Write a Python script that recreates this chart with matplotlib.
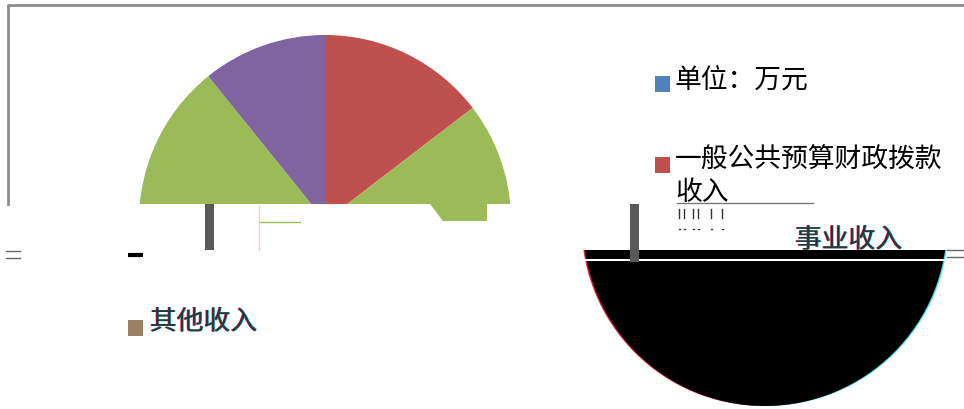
import matplotlib
matplotlib.use('Agg')
import matplotlib.pyplot as plt
import matplotlib.patheffects as pe
from matplotlib.patches import Polygon, Rectangle

plt.rcParams['font.family'] = ['Noto Sans CJK SC', 'DejaVu Sans']

# income shares (the lower part is hidden in the picture)
shares = [14.6, 26.4, 33.0, 15.2, 10.8]
share_colors = ['#C0504D', '#9BBB59', '#595959', '#9BBB59', '#8064A2']

legend_labels = ['单位：万元', '一般公共预算财政拨款', '收入', '事业收入', '其他收入']

W, H = 964, 409


def py(y):
    # pixel row from the top -> axes y
    return H - y


fig = plt.figure(figsize=(W / 100, H / 100), dpi=100)
ax = fig.add_axes([0, 0, 1, 1])

# main pie
ax.pie(shares, colors=share_colors, startangle=90, counterclock=False,
       center=(325, py(221)), radius=186, frame=False)

# white block that cuts the pie, with the notch where the green still shows
mask = [(0, 204), (430, 204), (443, 221), (487, 221), (487, 204), (582, 204),
        (582, 409), (0, 409)]
ax.add_patch(Polygon([(x, py(y)) for x, y in mask], color='white', lw=0, zorder=3))

# black half disc with its colour fringes
for dx, c, z in [(-1.5, '#E02040', 1), (1.5, '#40E0E0', 1), (0, 'black', 2)]:
    wedges, _ = ax.pie([1], colors=[c], center=(765 + dx, py(224)), radius=182, frame=False)
    wedges[0].set_zorder(z)
ax.set_xlim(0, W)
ax.set_ylim(0, H)
ax.set_aspect('auto')
ax.axis('off')
ax.add_patch(Rectangle((575, py(250)), W - 575, 250, color='white', lw=0, zorder=3))
ax.add_patch(Rectangle((582, py(261)), 366, 2, color='white', lw=0, zorder=3))

# frame
ax.plot([8, 8, W], [py(204), py(5), py(5)], color='#8C8C8C', lw=2, zorder=4)

# leftovers of the broken image
ax.add_patch(Rectangle((205, py(250)), 9, 46, color='#595959', lw=0, zorder=4))
ax.add_patch(Rectangle((630, py(262)), 9, 58, color='#595959', lw=0, zorder=4))
ax.plot([259, 259], [py(206), py(250)], color='#F4C8E0', lw=1, zorder=4)
ax.plot([260, 300], [py(222), py(222)], color='#9BBB59', lw=1, zorder=4)
ax.plot([128, 143], [py(254.5), py(254.5)], color='black', lw=3, zorder=4, solid_capstyle='butt')
for y in [251, 258]:
    ax.plot([6, 20], [py(y), py(y)], color='#666666', lw=1, zorder=4)
for y in [250, 257]:
    ax.plot([947, W], [py(y), py(y)], color='#666666', lw=1, zorder=4)
ax.plot([677, 813], [py(203), py(203)], color='#777777', lw=1, zorder=4)
for x in [679, 684, 693, 698, 711, 722]:
    ax.plot([x, x], [py(209), py(218)], color='#333333', lw=1, zorder=4)
    ax.plot([x, x + 1], [py(229), py(229)], color='#333333', lw=1, zorder=4)

# legend
fs = 19.3
# colour edges only, no solid black copy on top, so the strokes stay thin
fringe = [pe.PathPatchEffect(offset=(-0.5, 0), facecolor='#E02040', edgecolor='none', linewidth=0),
          pe.PathPatchEffect(offset=(0.5, 0), facecolor='#20D0E0', edgecolor='none', linewidth=0),
          pe.PathPatchEffect(offset=(0, 0), facecolor='#202020', edgecolor='none', linewidth=0, alpha=0.85)]
for (x0, y0, c) in [(655, 76, '#4F81BD'), (655, 157, '#C0504D'), (128, 320, '#9C7F62')]:
    ax.add_patch(Rectangle((x0, py(y0 + 16)), 15, 16, color=c, lw=0, zorder=4))
ax.text(675, py(80), legend_labels[0], fontsize=fs, va='center', ha='left', zorder=5)
ax.text(675, py(160), legend_labels[1], fontsize=fs, va='center', ha='left', zorder=5)
ax.text(675, py(193), legend_labels[2], fontsize=fs, va='center', ha='left', zorder=5)
ax.text(795, py(240), legend_labels[3], fontsize=fs, va='center', ha='left', zorder=5,
        path_effects=fringe)
ax.text(150, py(322), legend_labels[4], fontsize=fs, va='center', ha='left', zorder=5,
        path_effects=fringe)

fig.savefig('out.png', dpi=100)
